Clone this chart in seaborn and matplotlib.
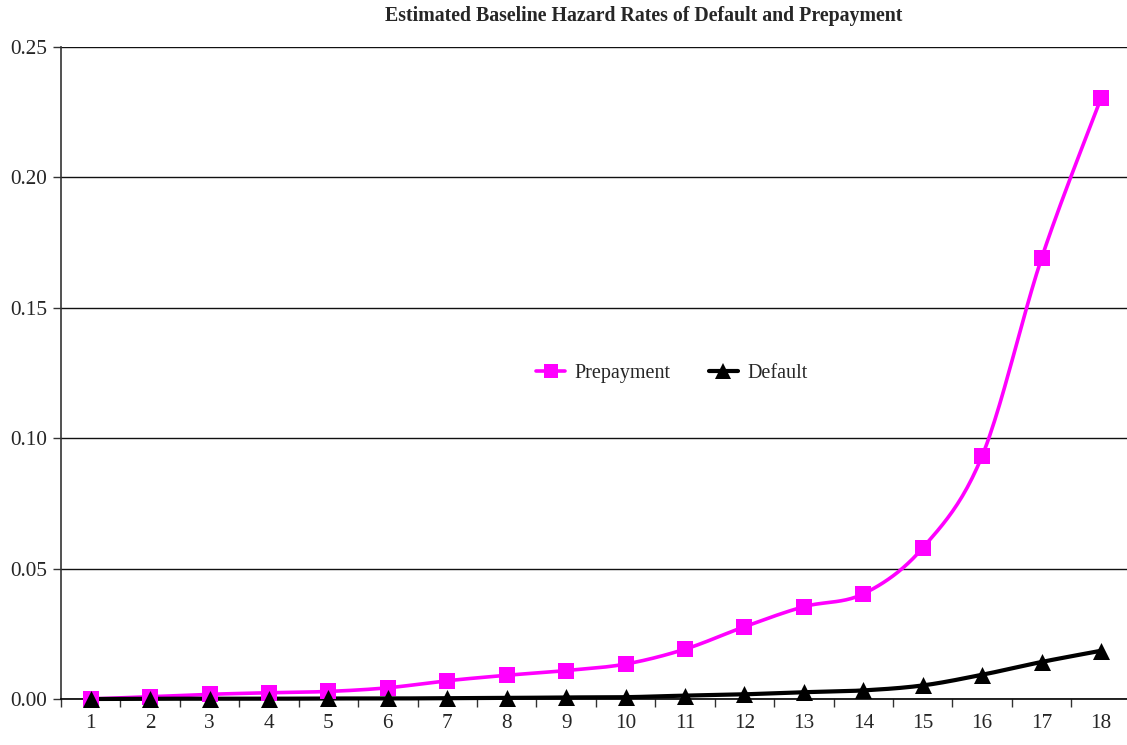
import numpy as np
import pandas as pd
import matplotlib
matplotlib.use("Agg")
import matplotlib.pyplot as plt
from matplotlib.lines import Line2D
import seaborn as sns

# Baseline hazard estimates by period
periods = list(range(1, 19))
prepayment = [0.0000, 0.0009, 0.0018, 0.0024, 0.0029, 0.0043, 0.0070, 0.0091, 0.0109,
              0.0134, 0.0191, 0.0277, 0.0354, 0.0403, 0.0579, 0.0932, 0.1690, 0.2303]
default = [0.0000, 0.0001, 0.0001, 0.0001, 0.0002, 0.0002, 0.0003, 0.0004, 0.0006,
           0.0007, 0.0013, 0.0018, 0.0026, 0.0033, 0.0052, 0.0093, 0.0142, 0.0185]
y_ticks = [0.00, 0.05, 0.10, 0.15, 0.20, 0.25]

PINK = "#FF00FF"
BLACK = "#000000"


def smooth(x, y, steps=24, tension=0.5):
    """Cardinal-spline path through the points (drawing only)."""
    x = np.asarray(x, float)
    y = np.asarray(y, float)
    px = np.concatenate([[x[0]], x, [x[-1]]])
    py = np.concatenate([[y[0]], y, [y[-1]]])
    xs, ys = [], []
    t = np.linspace(0, 1, steps, endpoint=False)
    for i in range(1, len(px) - 2):
        m1x = tension * (px[i + 1] - px[i - 1])
        m2x = tension * (px[i + 2] - px[i])
        m1y = tension * (py[i + 1] - py[i - 1])
        m2y = tension * (py[i + 2] - py[i])
        h00 = 2 * t**3 - 3 * t**2 + 1
        h10 = t**3 - 2 * t**2 + t
        h01 = -2 * t**3 + 3 * t**2
        h11 = t**3 - t**2
        xs.append(h00 * px[i] + h10 * m1x + h01 * px[i + 1] + h11 * m2x)
        ys.append(h00 * py[i] + h10 * m1y + h01 * py[i + 1] + h11 * m2y)
    xs.append([x[-1]])
    ys.append([y[-1]])
    return np.concatenate(xs), np.concatenate(ys)


sns.set_style("white")
plt.rcParams["font.family"] = ["Liberation Serif", "DejaVu Serif"]

fig = plt.figure(figsize=(11.27, 7.45), dpi=100)
ax = fig.add_axes([61 / 1127, 46 / 745, 1069.7 / 1127, 652 / 745])

df = pd.DataFrame({"period": periods + periods,
                   "rate": prepayment + default,
                   "series": ["Prepayment"] * 18 + ["Default"] * 18})

# smoothed connecting curves
for name, vals, col, lw in [("Prepayment", prepayment, PINK, 2.6),
                            ("Default", default, BLACK, 3.0)]:
    sx, sy = smooth(periods, vals)
    ax.plot(sx, sy, color=col, lw=lw, zorder=3, clip_on=False, solid_capstyle="round")

# markers
sns.scatterplot(data=df[df.series == "Prepayment"], x="period", y="rate", ax=ax,
                marker="s", s=130, color=PINK, edgecolor=PINK, linewidth=0,
                zorder=4, clip_on=False, legend=False)
sns.scatterplot(data=df[df.series == "Default"], x="period", y="rate", ax=ax,
                marker="^", s=150, color=BLACK, edgecolor=BLACK, linewidth=0,
                zorder=5, clip_on=False, legend=False)

ax.set_xlim(0.5, 18.5)
ax.set_ylim(0, 0.25)
ax.set_xlabel("")
ax.set_ylabel("")

# y axis
ax.set_yticks(y_ticks)
ax.set_yticklabels([f"{v:.2f}" for v in y_ticks], fontsize=15.3)
ax.yaxis.grid(True, color="#111111", lw=1.0)
ax.set_axisbelow(True)

# x axis: tick marks between periods, labels centred on periods
ax.set_xticks(np.arange(0.5, 19, 1.0))
ax.set_xticklabels([])
ax.set_xticks(periods, minor=True)
ax.set_xticklabels([str(p) for p in periods], minor=True, fontsize=15.3)
ax.tick_params(axis="x", which="major", direction="out", length=6, width=1,
               color="#333333", bottom=True)
ax.tick_params(axis="x", which="minor", length=0, pad=11)
ax.tick_params(axis="y", which="major", direction="out", length=6, width=1,
               color="#333333", left=True, pad=4)

for side in ["top", "right"]:
    ax.spines[side].set_visible(False)
ax.spines["left"].set_color("#333333")
ax.spines["left"].set_linewidth(1.2)
ax.spines["bottom"].set_color("#000000")
ax.spines["bottom"].set_linewidth(1.2)

handles = [Line2D([0], [0], color=PINK, lw=2.6, marker="s", markersize=10,
                  markeredgewidth=0),
           Line2D([0], [0], color=BLACK, lw=3.0, marker="^", markersize=11,
                  markeredgewidth=0)]
ax.legend(handles, ["Prepayment", "Default"], ncol=2, frameon=False,
          loc="center", bbox_to_anchor=(0.571, 0.5), fontsize=14.5,
          handlelength=1.45, handletextpad=0.45, columnspacing=1.9)

fig.text(644 / 1127, 1 - 16 / 745, "Estimated Baseline Hazard Rates of Default and Prepayment",
         ha="center", va="center", fontsize=14.3, fontweight="bold")

fig.savefig("out.png", dpi=100, facecolor="white")
